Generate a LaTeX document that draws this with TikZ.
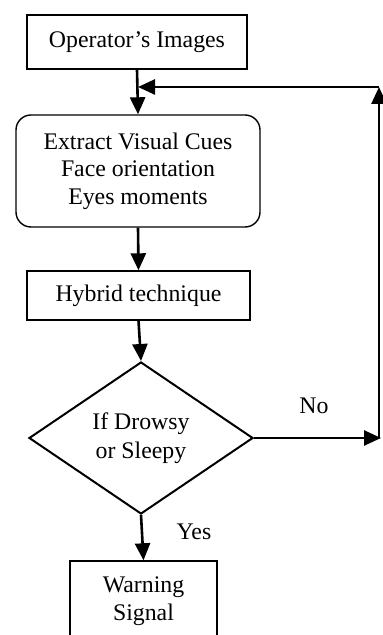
\documentclass[tikz,border=0pt]{standalone}
\usepackage{fontspec}
\setmainfont{Liberation Serif}
\usetikzlibrary{shapes.geometric, arrows.meta, positioning, calc}
\tikzstyle{box} = [rectangle, draw=black, line width=0.7pt, inner sep=2pt, text centered, align=center, font=\fontsize{11.9}{13.75}\selectfont]
\tikzstyle{arrow} = [-{Triangle[length=8.5pt, width=7.5pt]}, line width=1.3pt]

\begin{document}
\begin{tikzpicture}[
    x=0.5pt, y=-0.5pt,
    inbox/.style={box, minimum width=110pt, minimum height=27pt},
    cuebox/.style={box, rounded corners=7.5pt, minimum width=122pt, minimum height=56pt},
    hybbox/.style={box, minimum width=111.5pt, minimum height=24.5pt},
    decide/.style={diamond, draw=black, line width=1pt, inner sep=0pt, align=center,
      minimum width=112pt, minimum height=76pt, font=\fontsize{11.9}{14.5}\selectfont},
    outbox/.style={box, minimum width=73.5pt, minimum height=40pt},
    lbl/.style={font=\fontsize{11.9}{13.75}\selectfont, anchor=base, inner sep=0pt}
  ]
    \useasboundingbox (0,0) rectangle (383,635);

    % Main column
    \node[inbox] (img) at (137,42) {Operator’s Images};
    \node[cuebox] (cues) at (138,171) {Extract Visual Cues\\Face orientation\\Eyes moments};
    \node[hybbox] (hyb) at (138.5,295.5) {Hybrid technique};
    \node[decide] (dia) at (141,438) {If Drowsy\\or Sleepy};
    \node[outbox] (warn) at (143.5,601) {Warning\\Signal};

    \draw[arrow] (img.south) -- (cues.north);
    \draw[arrow] (cues.south) -- (hyb.north);
    \draw[arrow] (hyb.south) -- (dia.north);
    \draw[arrow] (dia.south) -- (warn.north);

    % Feedback loop on the right
    \coordinate (rb) at (381,438);
    \coordinate (rbase) at (379,438);
    \coordinate (rt) at (379,87);
    \coordinate (join) at (138,87);

    \draw[arrow] (dia.east) -- (rb);
    \draw[arrow] (rbase) -- (rt);
    \draw[arrow] (rt) -- (join);

    % Branch labels
    \node[lbl] (no) at (314,413) {No};
    \node[lbl] (yes) at (194,539) {Yes};
  \end{tikzpicture}
\end{document}
